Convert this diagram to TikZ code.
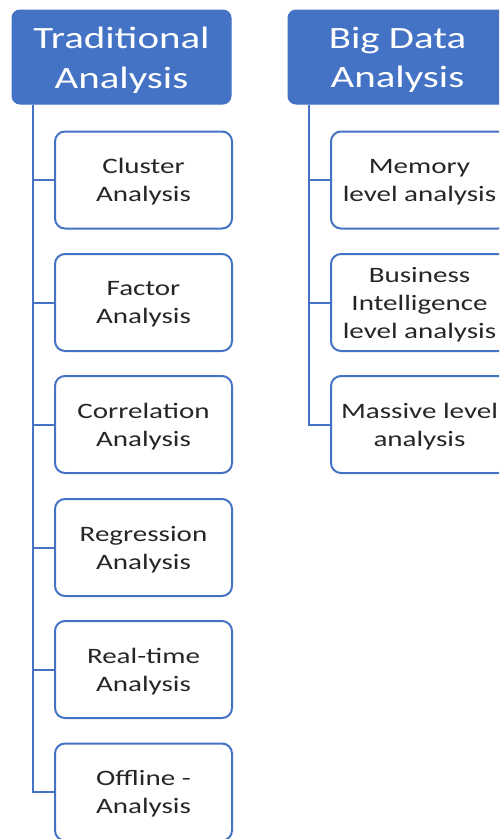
\documentclass[tikz,border=0pt]{standalone}
\usepackage{fontspec}
\setmainfont{Carlito}[FakeStretch=1.32]
\usetikzlibrary{calc}
\definecolor{accent}{HTML}{4472C4}
\definecolor{ink}{HTML}{262626}
\begin{document}
\begin{tikzpicture}[x=1pt,y=-1pt,
  headbox/.style={draw=accent,fill=accent,line width=1pt,rounded corners=8pt,
    minimum width=219pt,minimum height=94pt,inner sep=0pt},
  headtext/.style={inner sep=0pt,align=center,text=white,
    font=\fontsize{31}{39.5}\selectfont},
  itembox/.style={draw=accent,fill=white,line width=2pt,rounded corners=10pt,
    minimum width=177pt,minimum height=97pt,inner sep=0pt},
  itemtext/.style={inner sep=0pt,align=center,text=ink,
    font=\fontsize{22}{28}\selectfont},
  link/.style={draw=accent,line width=2pt}]
\useasboundingbox (0,0) rectangle (499,839);
\clip (0,0) rectangle (499,839);

% column headers
\node[headbox] (h1) at (121.5,57) {};
\node[headbox] (h2) at (397.5,57) {};
\node[headtext] (h1t) at ([yshift=-3pt]h1.center) {Traditional\\Analysis};
\node[headtext] (h2t) at ([yshift=-3pt]h2.center) {Big Data\\Analysis};

% item boxes
\node[itembox] (a1) at (143.5,180)   {};
\node[itembox] (a2) at (143.5,302.5) {};
\node[itembox] (a3) at (143.5,424.5) {};
\node[itembox] (a4) at (143.5,547.5) {};
\node[itembox] (a5) at (143.5,669.5) {};
\node[itembox] (a6) at (143.5,792)   {};
\node[itembox] (b1) at (419.5,180)   {};
\node[itembox] (b2) at (419.5,302.5) {};
\node[itembox] (b3) at (419.5,424.5) {};

% item labels
\node[itemtext] (a1t) at ([yshift=-2pt]a1.center) {Cluster\\Analysis};
\node[itemtext] (a2t) at ([yshift=-2pt]a2.center) {Factor\\Analysis};
\node[itemtext] (a3t) at ([yshift=-2pt]a3.center) {Correlation\\Analysis};
\node[itemtext] (a4t) at ([yshift=-2pt]a4.center) {Regression\\Analysis};
\node[itemtext] (a5t) at ([yshift=-2pt]a5.center) {Real-time\\Analysis};
\node[itemtext] (a6t) at ([yshift=-2pt]a6.center) {Offline -\\Analysis};
\node[itemtext] (b1t) at ([yshift=-2pt]b1.center) {Memory\\level analysis};
\node[itemtext] (b2t) at ([yshift=-2pt]b2.center) {Business\\Intelligence\\level analysis};
\node[itemtext] (b3t) at ([yshift=-2pt]b3.center) {Massive level\\analysis};

% trunks and branches
\coordinate (t1) at ($(h1.south west)+(21,0)$);
\coordinate (t2) at ($(h2.south west)+(21,0)$);
\draw[link] (t1) |- (a6.west);
\foreach \n in {a1,a2,a3,a4,a5} \draw[link] (t1 |- \n.west) -- (\n.west);
\draw[link] (t2) |- (b3.west);
\foreach \n in {b1,b2} \draw[link] (t2 |- \n.west) -- (\n.west);
\end{tikzpicture}
\end{document}
